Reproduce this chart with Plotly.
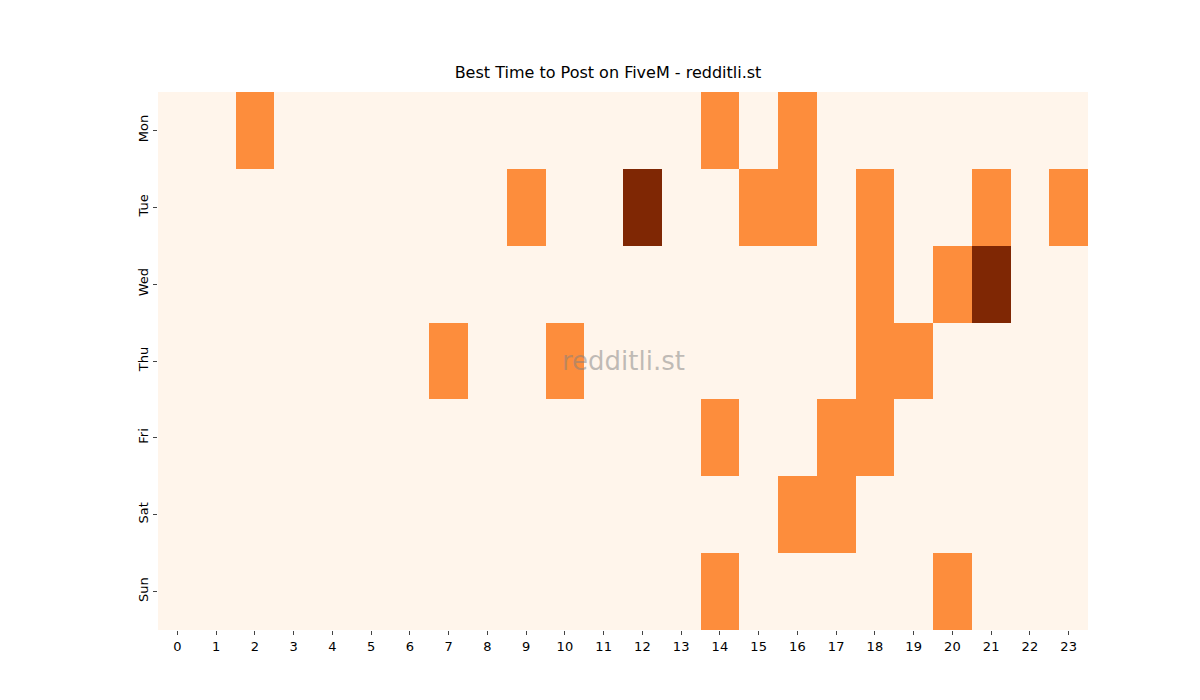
import plotly.graph_objects as go

days = ['Mon', 'Tue', 'Wed', 'Thu', 'Fri', 'Sat', 'Sun']
hours = list(range(24))

# posts per hour, by day (non-zero hours only)
active = {
    'Mon': {2: 1, 14: 1, 16: 1},
    'Tue': {9: 1, 12: 2, 15: 1, 16: 1, 18: 1, 21: 1, 23: 1},
    'Wed': {18: 1, 20: 1, 21: 2},
    'Thu': {7: 1, 10: 1, 18: 1, 19: 1},
    'Fri': {14: 1, 17: 1, 18: 1},
    'Sat': {16: 1, 17: 1},
    'Sun': {14: 1, 20: 1},
}

z = [[active[d].get(h, 0) for h in hours] for d in days]

fig = go.Figure(go.Heatmap(
    z=z, x=hours, y=days,
    colorscale=[[0, '#fff5eb'], [0.5, '#fd8d3c'], [1, '#7f2704']],
    zmin=0, zmax=2, showscale=False, xgap=0, ygap=0,
))

fig.update_layout(
    width=1200, height=700,
    paper_bgcolor='white', plot_bgcolor='white',
    font=dict(family='DejaVu Sans', size=13, color='black'),
    title=dict(text='Best Time to Post on FiveM - redditli.st', x=0.5, xanchor='center',
               y=0.9, yanchor='bottom', font=dict(size=16)),
    margin=dict(l=150, r=120, t=84, b=78),
    xaxis=dict(tickmode='array', tickvals=hours, ticks='outside', ticklen=4,
               showgrid=False, zeroline=False),
    yaxis=dict(autorange='reversed', tickangle=-90, ticks='outside', ticklen=4,
               showgrid=False, zeroline=False),
    annotations=[dict(text='redditli.st', x=0.5, y=0.5, xref='paper', yref='paper',
                      showarrow=False, font=dict(size=26, color='rgba(128,128,128,0.5)'))],
)

fig.write_html("out.html")
